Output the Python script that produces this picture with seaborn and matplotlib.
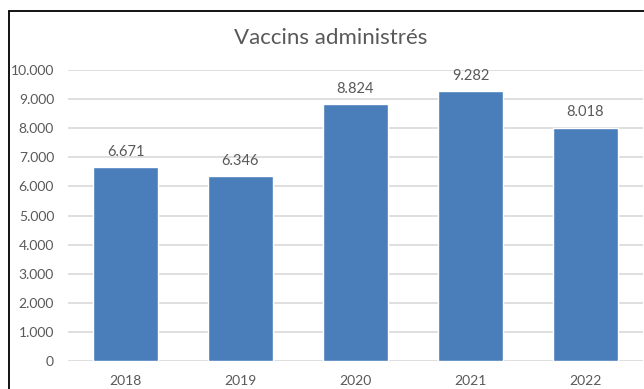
import matplotlib
matplotlib.use("Agg")
import matplotlib.pyplot as plt
import matplotlib.ticker as mticker
from matplotlib.lines import Line2D
import seaborn as sns
import pandas as pd

years  = ['2018', '2019', '2020', '2021', '2022']
vaccins = [6671, 6346, 8824, 9282, 8018]
y_ticks = [0, 1000, 2000, 3000, 4000, 5000, 6000, 7000, 8000, 9000, 10000]

df = pd.DataFrame({'annee': years, 'vaccins': vaccins})

sns.set_style('white')
plt.rcParams['font.family'] = ['Lato', 'DejaVu Sans']

def dots(v, pos=None):
    return f'{int(v):,}'.replace(',', '.')

fig = plt.figure(figsize=(6.44, 3.89), dpi=100)
ax = fig.add_axes([0.1056, 0.072, 0.8928, 0.748])

sns.barplot(data=df, x='annee', y='vaccins', color='#4A7EBB',
            saturation=1, width=0.57, ax=ax)

ax.set_xlim(-0.5, 4.5)
ax.set_ylim(0, 10000)
ax.set_yticks(y_ticks)
ax.yaxis.set_major_formatter(mticker.FuncFormatter(dots))
ax.grid(axis='y', color='#D9D9D9', linewidth=1.2)
ax.set_axisbelow(True)
for s in ax.spines.values():
    s.set_visible(False)
ax.tick_params(axis='both', length=0, labelsize=10, colors='#595959')
ax.tick_params(axis='x', pad=10)
ax.tick_params(axis='y', pad=10)
ax.set_xlabel('')
ax.set_ylabel('')

ax.bar_label(ax.containers[0], labels=[dots(v) for v in vaccins],
             padding=6, fontsize=10.5, color='#595959')

fig.text(0.513, 0.902, 'Vaccins administrés', ha='center', va='center',
         fontsize=16, color='#595959')

# chart frame (top and left edges visible in the crop)
fig.add_artist(Line2D([0.014, 1.0], [0.972, 0.972], color='black', linewidth=1.3,
                      transform=fig.transFigure))
fig.add_artist(Line2D([0.014, 0.014], [0.0, 0.972], color='black', linewidth=1.3,
                      transform=fig.transFigure))

fig.savefig('out.png', dpi=100)
